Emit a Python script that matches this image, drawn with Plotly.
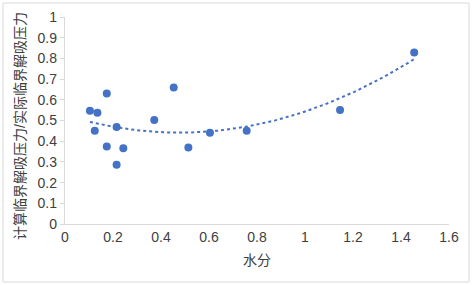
import numpy as np
import plotly.graph_objects as go

# data
water = [0.104, 0.135, 0.124, 0.174, 0.215, 0.372, 0.453, 0.604,
         0.174, 0.243, 0.215, 0.514, 0.757, 1.146, 1.455]
ratio = [0.547, 0.538, 0.451, 0.631, 0.469, 0.502, 0.660, 0.441,
         0.374, 0.366, 0.286, 0.369, 0.451, 0.551, 0.828]

x_title = "水分"
y_title = "计算临界解吸压力/实际临界解吸压力"

# order-2 polynomial trendline (as in the spreadsheet chart)
coef = np.polyfit(water, ratio, 2)
tx = np.linspace(min(water), max(water), 120)
ty = np.polyval(coef, tx)

font = "Liberation Sans, Arial, Noto Sans CJK SC, sans-serif"
blue = "#4472C4"
txt = "#404040"

W, H = 472, 285
L, R, T, B = 65, 23, 17, 61
pw, ph = W - L - R, H - T - B

fig = go.Figure()
fig.add_trace(go.Scatter(x=tx, y=ty, mode="lines",
                         line=dict(color=blue, width=2, dash="dot"),
                         hoverinfo="skip", showlegend=False))
fig.add_trace(go.Scatter(x=water, y=ratio, mode="markers",
                         marker=dict(color=blue, size=8),
                         showlegend=False))

fig.update_layout(
    width=W, height=H,
    margin=dict(l=L, r=R, t=T, b=B),
    paper_bgcolor="white", plot_bgcolor="white",
    font=dict(family=font, size=14, color=txt),
    xaxis=dict(range=[0, 1.6], dtick=0.2, tick0=0, showgrid=False, zeroline=False,
               showline=True, linecolor="#D9D9D9", linewidth=1.3, ticks="",
               automargin=False, tickfont=dict(size=14, color=txt)),
    yaxis=dict(range=[0, 1], dtick=0.1, tick0=0, showgrid=False, zeroline=False,
               showline=True, linecolor="#D9D9D9", linewidth=1.3, ticks="outside",
               ticklen=4, tickcolor="#D9D9D9", tickwidth=1.3,
               automargin=False, tickfont=dict(size=14, color=txt)),
    annotations=[
        dict(text=x_title, xref="paper", yref="paper", x=0.5, y=-(260 - (H - B)) / ph,
             yanchor="middle", xanchor="center", showarrow=False,
             font=dict(size=14, color=txt)),
        dict(text=y_title, xref="paper", yref="paper", x=-(L - 20) / pw, y=(H - B - 126) / ph,
             xanchor="center", yanchor="middle", textangle=-90, showarrow=False,
             font=dict(size=14, color=txt)),
    ],
    shapes=[dict(type="rect", xref="paper", yref="paper", layer="below",
                 x0=-(L - 3) / pw, x1=1 + (R - 3) / pw, y0=-(B - 3) / ph, y1=1 + (T - 3) / ph,
                 line=dict(color="#D9D9D9", width=1))],
)

fig.write_html("out.html", config={"displayModeBar": False},
               post_script="document.body.style.margin='0';")
